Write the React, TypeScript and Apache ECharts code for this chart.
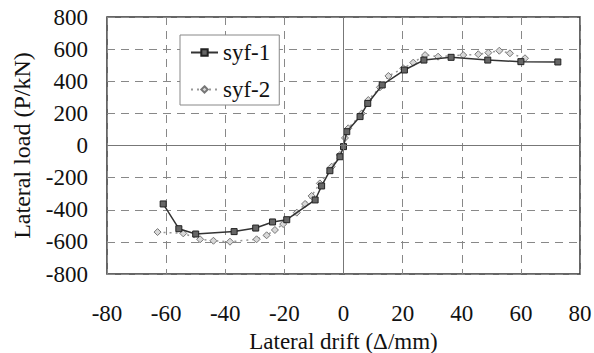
import React, { useEffect, useRef } from "react";
import * as echarts from "echarts";

const syf1X = [-61, -55.7, -50, -37, -29.7, -24, -19.2, -9.6, -7.4, -4.6, -1.2, 0, 1.1, 5.6, 8.2, 13.1, 20.6, 27.2, 36.4, 48.8, 60, 72.5];
const syf1Y = [-364, -518, -551, -536, -514, -476, -462, -339, -252, -157, -70, -7, 86, 180, 262, 377, 470, 532, 549, 532, 522, 520];

const syf2X = [-62.9, -54.2, -48.5, -44, -38.4, -29.4, -26, -23.2, -20.4, -15.8, -13, -10.8, -8, -4, -1.2, 0.5, 1.6, 6.2, 8.4, 12.3, 15.2, 20.2, 23.6, 27.6, 32, 40.5, 45.6, 49, 52.7, 56.3, 61.4];
const syf2Y = [-539, -547, -584, -593, -599, -584, -559, -526, -489, -418, -364, -314, -236, -132, -59, 47, 107, 200, 283, 362, 433, 481, 516, 563, 553, 563, 568, 578, 590, 574, 543];

const xTicks = [-80, 80, 20];
const yTicks = [-800, 800, 200];

export default function App() {
  const ref = useRef<HTMLDivElement>(null);
  useEffect(() => {
    document.body.style.margin = "0";
    const chart = echarts.init(ref.current!, null, { renderer: "svg" });
    const font = "Liberation Serif";
    const dash = [8, 6];
    chart.setOption({
      animation: false,
      backgroundColor: "#fff",
      textStyle: { fontFamily: font },
      grid: {
        left: 107, right: 14, top: 17, bottom: 79,
        outerBoundsMode: "none",
        containLabel: false,
        show: true, borderColor: "#333", borderWidth: 1.5,
      },
      legend: {
        orient: "vertical",
        left: 180, top: 35,
        itemWidth: 27, itemHeight: 8, itemGap: 14,
        padding: [6, 9, 4, 10],
        borderColor: "#888", borderWidth: 1,
        backgroundColor: "#fff",
        textStyle: { fontFamily: font, fontSize: 23, color: "#111" },
        data: ["syf-1", "syf-2"],
      },
      xAxis: {
        type: "value",
        min: xTicks[0], max: xTicks[1], interval: xTicks[2],
        name: "Lateral drift (Δ/mm)",
        nameLocation: "middle", nameGap: 49,
        nameTextStyle: { fontFamily: font, fontSize: 23, color: "#111", lineHeight: 24 },
        axisLine: { show: false },
        axisTick: { show: false },
        axisLabel: { fontFamily: font, fontSize: 23, color: "#111", margin: 28 },
        splitLine: { show: true, lineStyle: { color: "#888", type: dash, width: 1 } },
      },
      yAxis: {
        type: "value",
        min: yTicks[0], max: yTicks[1], interval: yTicks[2],
        name: "Lateral load (P/kN)",
        nameLocation: "middle", nameGap: 73,
        nameTextStyle: { fontFamily: font, fontSize: 24, color: "#111" },
        axisLine: { show: false },
        axisTick: { show: false },
        axisLabel: { fontFamily: font, fontSize: 23, color: "#111", margin: 19 },
        splitLine: { show: true, lineStyle: { color: "#888", type: dash, width: 1 } },
      },
      series: [
        {
          name: "syf-2",
          type: "line",
          data: syf2X.map((x, i) => [x, syf2Y[i]]),
          symbol: "diamond",
          symbolSize: 7,
          showAllSymbol: true,
          itemStyle: { color: "#d8d8d8", borderColor: "#777", borderWidth: 1 },
          lineStyle: { color: "#999", width: 1.5, type: [2, 4] },
          z: 3,
          markLine: {
            silent: true,
            symbol: "none",
            label: { show: false },
            lineStyle: { color: "#777", type: "solid", width: 1 },
            data: [{ xAxis: 0 }, { yAxis: 0 }],
          },
        },
        {
          name: "syf-1",
          type: "line",
          data: syf1X.map((x, i) => [x, syf1Y[i]]),
          symbol: "rect",
          symbolSize: 6,
          showAllSymbol: true,
          itemStyle: { color: "#666", borderColor: "#222", borderWidth: 1 },
          lineStyle: { color: "#333", width: 1.5 },
          z: 4,
        },
      ],
    });
    return () => chart.dispose();
  }, []);
  return <div ref={ref} style={{ width: 594, height: 353 }} />;
}
